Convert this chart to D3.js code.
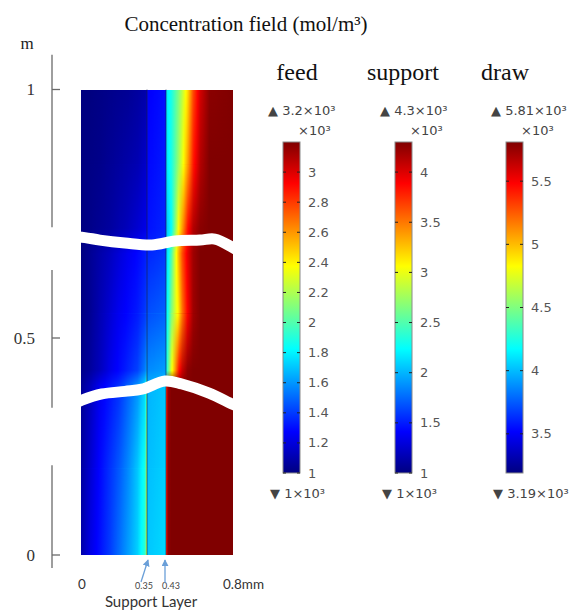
<!DOCTYPE html>
<html>
<head>
<meta charset="utf-8">
<script src="https://cdn.jsdelivr.net/npm/d3@7"></script>
<style>
  body { margin: 0; background: #fff; }
</style>
</head>
<body>
<svg id="chart" width="577" height="615"></svg>
<script>
// Jet colour map: fraction of the colour range -> colour
const jetStops  = [0, 0.125, 0.375, 0.625, 0.875, 1];
const jetColors = ["#000080", "#0000ff", "#00ffff", "#ffff00", "#ff0000", "#800000"];

// Colour ranges of the three domains (mol/m^3)
const feedRange    = [1000, 3200];
const supportRange = [1000, 4300];
const drawRange    = [3190, 5810];

// Colour-bar tick labels (x10^3 mol/m^3)
const feedTicks    = [1, 1.2, 1.4, 1.6, 1.8, 2, 2.2, 2.4, 2.6, 2.8, 3];
const supportTicks = [1, 1.5, 2, 2.5, 3, 3.5, 4];
const drawTicks    = [3.5, 4, 4.5, 5, 5.5];

// Height of each concentration profile (m)
const heights = [1.0, 0.85, 0.72, 0.67, 0.55, 0.425, 0.39, 0.2, 0.0];

// Sample positions across the membrane (mm)
const xFeed    = [0, 0.05, 0.10, 0.15, 0.20, 0.25, 0.30, 0.34, 0.35];
const xSupport = [0.35, 0.39, 0.43];
const xDraw    = [0.43, 0.44, 0.46, 0.48, 0.50, 0.52, 0.55, 0.58, 0.62, 0.67, 0.80];

// Concentration profiles (mol/m^3), one row per height
const feedConc = [
  [1000, 1000, 1011, 1022, 1033, 1044, 1066, 1088, 1110],
  [1000, 1011, 1022, 1044, 1066, 1088, 1110, 1154, 1176],
  [1000, 1022, 1044, 1066, 1099, 1132, 1176, 1220, 1242],
  [1000, 1044, 1088, 1132, 1187, 1242, 1286, 1330, 1352],
  [1000, 1044, 1110, 1176, 1242, 1286, 1330, 1396, 1440],
  [1022, 1066, 1132, 1220, 1286, 1352, 1418, 1550, 1660],
  [1044, 1132, 1242, 1308, 1374, 1484, 1594, 1748, 2100],
  [1066, 1176, 1286, 1374, 1462, 1572, 1704, 1880, 2276],
  [1088, 1220, 1308, 1396, 1506, 1616, 1726, 1924, 2320]
];
const supportConc = [
  [1396, 1429, 1462],
  [1429, 1462, 1495],
  [1462, 1495, 1528],
  [1528, 1561, 1594],
  [1660, 1693, 1726],
  [1858, 1891, 1924],
  [1990, 2023, 2056],
  [2023, 2056, 2089],
  [2056, 2089, 2122]
];
const drawConc = [
  [4081, 4146, 4238, 4369, 4500, 4657, 4919, 5286, 5600, 5784, 5810],
  [4055, 4133, 4238, 4395, 4579, 4762, 5076, 5417, 5679, 5810, 5810],
  [3976, 4055, 4186, 4500, 4841, 5076, 5443, 5679, 5784, 5810, 5810],
  [4028, 4133, 4369, 4710, 5024, 5286, 5548, 5731, 5810, 5810, 5810],
  [4107, 4212, 4500, 4710, 4893, 5181, 5496, 5731, 5810, 5810, 5810],
  [4133, 4369, 4762, 5076, 5417, 5627, 5784, 5810, 5810, 5810, 5810],
  [5234, 5731, 5810, 5810, 5810, 5810, 5810, 5810, 5810, 5810, 5810],
  [5286, 5758, 5810, 5810, 5810, 5810, 5810, 5810, 5810, 5810, 5810],
  [5286, 5758, 5810, 5810, 5810, 5810, 5810, 5810, 5810, 5810, 5810]
];

// Height axis ticks (m) and the pieces of the broken axis line
const yTicks = [0, 0.5, 1];
const yTickLabels = ["0", "0.5", "1"];
const axisSegments = [[1.07, 0.723], [0.637, 0.339], [0.207, -0.03]];

// Position labels under the field (mm)
const xEdgeTicks = [0, 0.8];
const xEdgeLabels = ["0", "0.8mm"];
const layerEdges = [0.35, 0.43];
const layerLabels = ["0.35", "0.43"];

// Axis breaks drawn across the field: [x (mm), height (m)]
const topBreak = [[-0.016, 0.703], [0.021, 0.702], [0.10, 0.697], [0.233, 0.691], [0.371, 0.687],
                  [0.48, 0.695], [0.618, 0.697], [0.70, 0.699], [0.794, 0.683], [0.822, 0.677]];
const bottomBreak = [[-0.016, 0.353], [0.005, 0.357], [0.111, 0.371], [0.233, 0.377], [0.323, 0.382],
                     [0.426, 0.401], [0.518, 0.394], [0.668, 0.373], [0.794, 0.348], [0.822, 0.343]];

const svg = d3.select("#chart");
const defs = svg.append("defs");

// Piecewise scales: the height axis is broken, the layer is widened
const x = d3.scaleLinear().domain([0, 0.35, 0.43, 0.8]).range([81, 147, 166, 233]);
const y = d3.scaleLinear().domain([0, 0.5, 1]).range([555, 338, 89.5]);

function jetScale(range) {
  return d3.scaleLinear()
    .domain(jetStops.map(f => range[0] + f * (range[1] - range[0])))
    .range(jetColors)
    .clamp(true);
}

// Vertical fade used to blend one profile into the next
const fade = defs.append("linearGradient").attr("id", "fadeGrad")
  .attr("x1", 0).attr("y1", 0).attr("x2", 0).attr("y2", 1);
fade.append("stop").attr("offset", 0).attr("stop-color", "#fff");
fade.append("stop").attr("offset", 1).attr("stop-color", "#000");
defs.append("mask").attr("id", "fadeMask")
  .attr("maskContentUnits", "objectBoundingBox")
  .style("color-interpolation", "sRGB")
  .append("rect").attr("width", 1).attr("height", 1).attr("fill", "url(#fadeGrad)");

const field = svg.append("g").attr("class", "field");

function drawDomain(key, xs, rows, range) {
  const color = jetScale(range);
  const x0 = x(xs[0]), x1 = x(xs[xs.length - 1]);
  const sub = 8;
  rows.forEach((row, i) => {
    const g = defs.append("linearGradient").attr("id", `${key}-${i}`)
      .attr("gradientUnits", "userSpaceOnUse")
      .attr("x1", x0).attr("x2", x1).attr("y1", 0).attr("y2", 0);
    for (let j = 0; j < xs.length - 1; j++) {
      for (let s = 0; s < sub; s++) {
        const t = s / sub;
        const xv = xs[j] + t * (xs[j + 1] - xs[j]);
        const v = row[j] + t * (row[j + 1] - row[j]);
        g.append("stop").attr("offset", (x(xv) - x0) / (x1 - x0)).attr("stop-color", color(v));
      }
    }
    g.append("stop").attr("offset", 1).attr("stop-color", color(row[row.length - 1]));
  });
  for (let i = 0; i < rows.length - 1; i++) {
    const yTop = y(heights[i]), yBot = y(heights[i + 1]);
    field.append("rect")
      .attr("x", x0).attr("y", yTop).attr("width", x1 - x0).attr("height", yBot - yTop)
      .attr("fill", `url(#${key}-${i + 1})`).attr("shape-rendering", "crispEdges");
    field.append("rect")
      .attr("x", x0).attr("y", yTop).attr("width", x1 - x0).attr("height", yBot - yTop)
      .attr("fill", `url(#${key}-${i})`).attr("mask", "url(#fadeMask)")
      .attr("shape-rendering", "crispEdges");
  }
}

drawDomain("feed", xFeed, feedConc, feedRange);
drawDomain("support", xSupport, supportConc, supportRange);
drawDomain("draw", xDraw, drawConc, drawRange);

// Domain boundaries of the support layer
field.selectAll("line.edge").data(layerEdges).join("line")
  .attr("class", "edge")
  .attr("x1", d => x(d)).attr("x2", d => x(d))
  .attr("y1", y(1)).attr("y2", y(0))
  .attr("stroke", "#1c1c3c").attr("stroke-opacity", 0.6).attr("stroke-width", 1);

// White axis breaks
const breakLine = d3.line().x(d => x(d[0])).y(d => y(d[1])).curve(d3.curveCatmullRom);
svg.selectAll("path.break").data([topBreak, bottomBreak]).join("path")
  .attr("class", "break")
  .attr("d", breakLine)
  .attr("fill", "none").attr("stroke", "#fff").attr("stroke-width", 11);

// Broken height axis
const axisX = 52;
svg.selectAll("line.axis").data(axisSegments).join("line")
  .attr("class", "axis")
  .attr("x1", axisX).attr("x2", axisX)
  .attr("y1", d => y(d[0])).attr("y2", d => y(d[1]))
  .attr("stroke", "#6a6a6a").attr("stroke-width", 1.3);
svg.selectAll("line.ytick").data(yTicks).join("line")
  .attr("class", "ytick")
  .attr("x1", axisX).attr("x2", axisX + 8)
  .attr("y1", d => y(d)).attr("y2", d => y(d))
  .attr("stroke", "#6a6a6a").attr("stroke-width", 1.3);
svg.selectAll("text.ytick").data(yTicks).join("text")
  .attr("class", "ytick")
  .attr("x", 35).attr("y", d => y(d))
  .attr("dy", "0.35em").attr("text-anchor", "end")
  .style("font", "17px 'Liberation Serif', serif").attr("fill", "#333")
  .text((d, i) => yTickLabels[i]);
svg.append("text").attr("x", 27).attr("y", 49).attr("text-anchor", "middle")
  .style("font", "17px 'Liberation Serif', serif").attr("fill", "#222").text("m");

// Title
svg.append("text").attr("x", 246).attr("y", 31).attr("text-anchor", "middle")
  .style("font", "21px 'Liberation Serif', serif").attr("fill", "#111")
  .text("Concentration field (mol/m³)");

// Position labels under the field
const sansFont = "'Lato', 'Liberation Sans', sans-serif";
svg.append("text").attr("x", x(xEdgeTicks[0]) + 1).attr("y", 589).attr("text-anchor", "middle")
  .style("font", `13.5px ${sansFont}`).attr("fill", "#333").text(xEdgeLabels[0]);
svg.append("text").attr("x", x(xEdgeTicks[1]) - 10).attr("y", 589).attr("text-anchor", "start")
  .style("font", `13.5px ${sansFont}`).attr("fill", "#333").text(xEdgeLabels[1]);
svg.selectAll("text.layer").data(layerEdges).join("text")
  .attr("class", "layer")
  .attr("x", (d, i) => x(d) + (i === 0 ? -3 : 5)).attr("y", 589)
  .attr("text-anchor", "middle")
  .style("font", `9px ${sansFont}`).attr("fill", "#444")
  .text((d, i) => layerLabels[i]);
svg.append("text").attr("x", 151).attr("y", 607).attr("text-anchor", "middle")
  .style("font", `15px ${sansFont}`).attr("fill", "#333").text("Support Layer");

// Arrows pointing at the support-layer boundaries
defs.append("marker").attr("id", "arrowHead")
  .attr("viewBox", "0 0 8 8").attr("refX", 7).attr("refY", 4)
  .attr("markerWidth", 7).attr("markerHeight", 7).attr("markerUnits", "userSpaceOnUse")
  .attr("orient", "auto")
  .append("path").attr("d", "M0,0 L8,4 L0,8 Z").attr("fill", "#6a9fd8");
const arrowTails = [[-6, 582], [-1, 583]];
svg.selectAll("line.arrow").data(layerEdges).join("line")
  .attr("class", "arrow")
  .attr("x1", (d, i) => x(d) + arrowTails[i][0]).attr("y1", (d, i) => arrowTails[i][1])
  .attr("x2", (d, i) => x(d) + (i === 0 ? 1 : -1)).attr("y2", 560)
  .attr("stroke", "#6a9fd8").attr("stroke-width", 1.3)
  .attr("marker-end", "url(#arrowHead)");

// Colour bars
const cbFont = "'DejaVu Sans', sans-serif";
const bars = [
  { name: "feed",    range: feedRange,    ticks: feedTicks,    left: 283, headX: 297 },
  { name: "support", range: supportRange, ticks: supportTicks, left: 395, headX: 403 },
  { name: "draw",    range: drawRange,    ticks: drawTicks,    left: 506, headX: 505 }
];
const barW = 17, barTop = 142, barBottom = 473;
const fmt = d3.format("~g");

const cbGrad = defs.append("linearGradient").attr("id", "jetBar")
  .attr("x1", 0).attr("y1", 1).attr("x2", 0).attr("y2", 0);
jetStops.forEach((s, i) => cbGrad.append("stop").attr("offset", s).attr("stop-color", jetColors[i]));

bars.forEach(b => {
  const lo = b.range[0] / 1000, hi = b.range[1] / 1000;
  const cy = d3.scaleLinear().domain([lo, hi]).range([barBottom, barTop]);
  const g = svg.append("g").attr("class", `bar-${b.name}`);

  g.append("text").attr("x", b.headX).attr("y", 80).attr("text-anchor", "middle")
    .style("font", "24px 'Liberation Serif', serif").attr("fill", "#111").text(b.name);

  g.append("text").attr("x", b.left - 15).attr("y", 115)
    .style("font", `13px ${cbFont}`).attr("fill", "#444")
    .text(`▲ ${fmt(hi)}×10³`);
  g.append("text").attr("x", b.left + 15).attr("y", 135)
    .style("font", `13px ${cbFont}`).attr("fill", "#444")
    .text("×10³");

  g.append("rect").attr("x", b.left).attr("y", barTop)
    .attr("width", barW).attr("height", barBottom - barTop)
    .attr("fill", "url(#jetBar)").attr("stroke", "#8a8a8a").attr("stroke-width", 1);

  g.selectAll("line.tl").data(b.ticks).join("line").attr("class", "tl")
    .attr("x1", b.left).attr("x2", b.left + 3)
    .attr("y1", d => cy(d)).attr("y2", d => cy(d))
    .attr("stroke", "#222").attr("stroke-width", 1);
  g.selectAll("line.tr").data(b.ticks).join("line").attr("class", "tr")
    .attr("x1", b.left + barW - 3).attr("x2", b.left + barW)
    .attr("y1", d => cy(d)).attr("y2", d => cy(d))
    .attr("stroke", "#222").attr("stroke-width", 1);
  g.selectAll("text.tick").data(b.ticks).join("text").attr("class", "tick")
    .attr("x", b.left + barW + 8).attr("y", d => cy(d)).attr("dy", "0.35em")
    .style("font", `13px ${cbFont}`).attr("fill", "#555")
    .text(d => fmt(d));

  g.append("text").attr("x", b.left - 13).attr("y", 498)
    .style("font", `13px ${cbFont}`).attr("fill", "#444")
    .text(`▼ ${fmt(lo)}×10³`);
});
</script>
</body>
</html>
